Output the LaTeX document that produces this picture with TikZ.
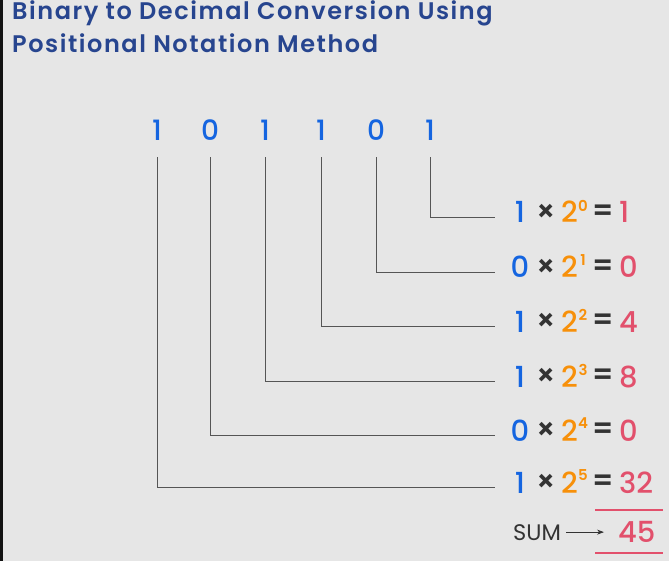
\documentclass[tikz,border=0pt]{standalone}
\usepackage{fontspec}
\usetikzlibrary{arrows.meta}
\setmainfont{Poppins}
\newfontfamily\pmed{Poppins Medium}
\newfontfamily\psemi{Poppins SemiBold}
\newfontfamily\ptitle{Poppins SemiBold}[LetterSpace=6.5]
\definecolor{bg}{HTML}{E6E6E6}
\definecolor{cblue}{HTML}{1565E0}
\definecolor{corange}{HTML}{F7900A}
\definecolor{cred}{HTML}{E2506C}
\definecolor{cdark}{HTML}{333333}
\definecolor{ctitle}{HTML}{27458F}
\definecolor{cline}{HTML}{555555}
\begin{document}
\begin{tikzpicture}[x=1pt,y=-1pt,
  ttl/.style={font=\ptitle\fontsize{24}{28}\selectfont, text=ctitle, inner sep=0, anchor=base west},
  bin/.style={font=\pmed\fontsize{28}{30}\selectfont, text=cblue, inner sep=0, anchor=base},
  eqd/.style={font=\pmed\fontsize{29}{32}\selectfont, inner sep=0, anchor=base},
  opr/.style={font=\psemi\fontsize{29}{32}\selectfont, text=cdark, inner sep=0, anchor=center},
  sup/.style={font=\psemi\fontsize{15}{17}\selectfont, text=corange, inner sep=0, anchor=center},
  conn/.style={draw=cline, line width=0.9pt},
  uline/.style={draw=cred, line width=1.3pt}]
\useasboundingbox (0,0) rectangle (669,561);
\fill[bg] (0,0) rectangle (669,561);
\fill[black!93] (0,0) rectangle (3,561);
\node[ttl] (t1) at (12,20) {Binary to Decimal Conversion Using};
\node[ttl] (t2) at (12,53) {Positional Notation Method};
\foreach \k/\b/\r/\y/\x in {0/1/1/217/430, 1/0/0/272/376, 2/1/4/326/321, 3/1/8/381/265, 4/0/0/435/210, 5/1/32/487/157}{
  \node[bin] (d\k) at (\x,141) {\b};
  \node[eqd, text=cblue] (b\k) at (520,{\y+6}) {\b};
  \node[opr] (x\k) at (546,{\y-4}) {×};
  \node[eqd, text=corange] (w\k) at (569.5,{\y+6}) {2};
  \node[sup] (p\k) at (583,{\y-11.5}) {\k};
  \node[opr] (q\k) at (603.5,{\y-4}) {=};
  \node[eqd, text=cred, anchor=base west] (r\k) at (619,{\y+6}) {\r};
  \coordinate (c\k) at (495,\y);
  \draw[conn] ([yshift=-16pt]d\k.south) |- (c\k);
}
\draw[uline] (595,510) -- (663,510);
\node[font=\fontsize{22.5}{25}\selectfont, text=cdark, inner sep=0, anchor=base west] (sum) at (513,540) {SUM};
\node[eqd, text=cred, anchor=base west] (tot) at (618,542) {45};
\draw[uline] (595,553) -- (663,553);
\draw[draw=cdark, line width=0.8pt, -{Stealth[length=7pt,width=5pt]}] ([xshift=5pt]sum.east) -- ([xshift=-14pt]tot.west |- sum.east);
\end{tikzpicture}
\end{document}
